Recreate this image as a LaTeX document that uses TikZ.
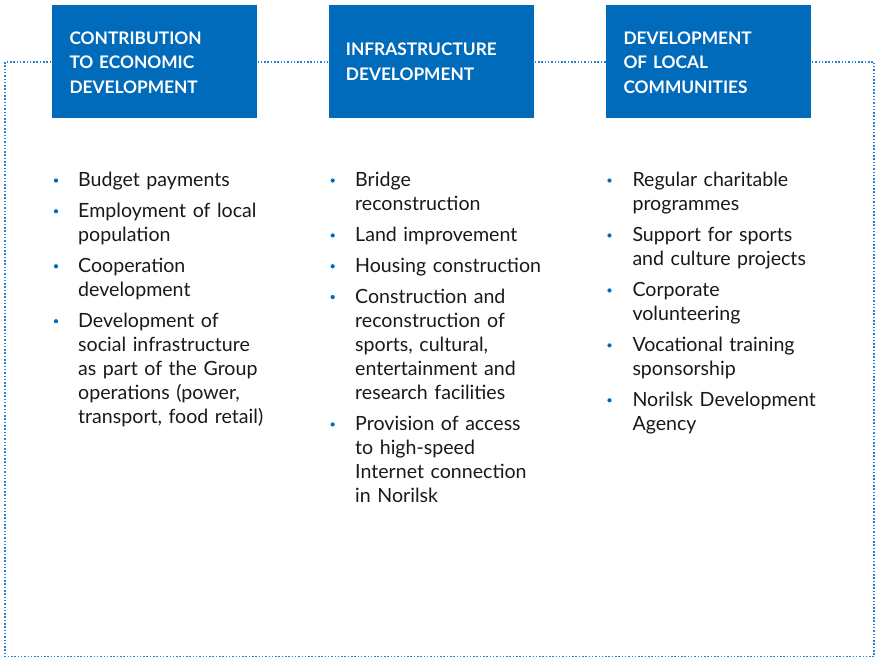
\documentclass[tikz,border=0pt]{standalone}
\usepackage{fontspec}
\setmainfont{Lato}
\definecolor{boxblue}{RGB}{0,106,187}
\definecolor{dotblue}{RGB}{40,130,210}
\definecolor{txtc}{RGB}{25,25,25}
\begin{document}
\begin{tikzpicture}[x=1pt,y=-1pt,
  hdr/.style={fill=boxblue,draw=none,minimum width=205pt,minimum height=113pt,anchor=north west,inner sep=0pt},
  hdrtxt/.style={text=white,font=\fontsize{17.3}{24.5}\selectfont\bfseries,anchor=base west,inner sep=0pt,align=left,text width=190pt},
  item/.style={text=txtc,font=\fontsize{19.6}{24.15}\selectfont,anchor=base west,inner sep=0pt,align=left,text width=230pt},
  bul/.style={circle,fill=boxblue,inner sep=0pt,minimum size=4.2pt},
  frame/.style={draw=dotblue,line width=1.5pt,dash pattern=on 1.5pt off 1.8pt}]
\useasboundingbox (0,0) rectangle (879,665);
\coordinate (f1) at (5,62);
\coordinate (f2) at (874,656.5);
\draw[frame] (f1) rectangle (f2);
% headers
\node[hdr] (h1) at (52,4.5) {};
\node[hdr] (h2) at (328.5,4.5) {};
\node[hdr] (h3) at (606,4.5) {};
\node[hdrtxt] (t1) at (69.3,44.3) {CONTRIBUTION\\TO ECONOMIC\\DEVELOPMENT};
\node[hdrtxt] (t2) at (345.7,55.5) {INFRASTRUCTURE\\DEVELOPMENT};
\node[hdrtxt] (t3) at (623.3,44.3) {DEVELOPMENT\\OF LOCAL\\COMMUNITIES};
% column 1
\node[bul] (b11) at (56,180.5) {};
\node[item] (i11) at (78,186.5) {Budget payments};
\node[bul] (b12) at (56,211.3) {};
\node[item] (i12) at (78,217.3) {Employment of local\\population};
\node[bul] (b13) at (56,266.25) {};
\node[item] (i13) at (78,272.25) {Cooperation\\development};
\node[bul] (b14) at (56,321.2) {};
\node[item] (i14) at (78,327.2) {Development of\\social infrastructure\\as part of the Group\\operations (power,\\transport, food retail)};
% column 2
\node[bul] (b21) at (332.7,180.5) {};
\node[item] (i21) at (355,186.5) {Bridge\\reconstruction};
\node[bul] (b22) at (332.7,235.45) {};
\node[item] (i22) at (355,241.45) {Land improvement};
\node[bul] (b23) at (332.7,266.25) {};
\node[item] (i23) at (355,272.25) {Housing construction};
\node[bul] (b24) at (332.7,297.05) {};
\node[item] (i24) at (355,303.05) {Construction and\\reconstruction of\\sports, cultural,\\entertainment and\\research facilities};
\node[bul] (b25) at (332.7,424.45) {};
\node[item] (i25) at (355,430.45) {Provision of access\\to high-speed\\Internet connection\\in Norilsk};
% column 3
\node[bul] (b31) at (609.5,180.5) {};
\node[item] (i31) at (632.3,186.5) {Regular charitable\\programmes};
\node[bul] (b32) at (609.5,235.45) {};
\node[item] (i32) at (632.3,241.45) {Support for sports\\and culture projects};
\node[bul] (b33) at (609.5,290.4) {};
\node[item] (i33) at (632.3,296.4) {Corporate\\volunteering};
\node[bul] (b34) at (609.5,345.35) {};
\node[item] (i34) at (632.3,351.35) {Vocational training\\sponsorship};
\node[bul] (b35) at (609.5,400.3) {};
\node[item] (i35) at (632.3,406.3) {Norilsk Development\\Agency};
\end{tikzpicture}
\end{document}
